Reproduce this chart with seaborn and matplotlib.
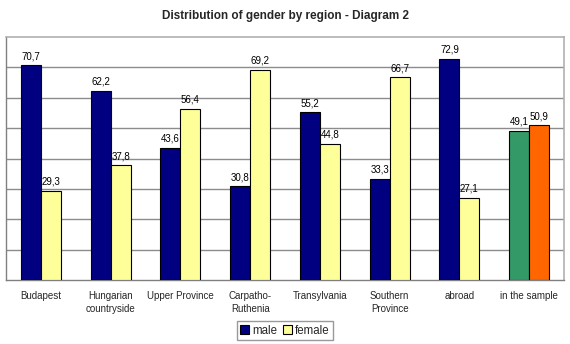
import matplotlib
matplotlib.use("Agg")
import matplotlib.pyplot as plt
import seaborn as sns
import pandas as pd
import numpy as np
from matplotlib.patches import Patch

regions = ["Budapest", "Hungarian\ncountryside", "Upper Province", "Carpatho-\nRuthenia",
           "Transylvania", "Southern\nProvince", "abroad", "in the sample"]
male = [70.7, 62.2, 43.6, 30.8, 55.2, 33.3, 72.9, 49.1]
female = [29.3, 37.8, 56.4, 69.2, 44.8, 66.7, 27.1, 50.9]
series = ["male", "female"]

df = pd.DataFrame({
    "region": regions * 2,
    "sex": ["male"] * len(regions) + ["female"] * len(regions),
    "value": male + female,
})

sns.set_theme(style="white")
plt.rcParams["font.family"] = ["Liberation Sans", "DejaVu Sans"]

fig = plt.figure(figsize=(5.70, 3.44), dpi=100)
ax = fig.add_axes([6 / 570, 64 / 344, 558 / 570, 243 / 344])

colors = {"male": "#000080", "female": "#FFFF99"}
sample_colors = {"male": "#339966", "female": "#FF6600"}
sns.barplot(data=df, x="region", y="value", hue="sex", order=regions, hue_order=series,
            palette=colors, saturation=1, width=0.57, edgecolor="black", linewidth=0.8,
            errorbar=None, ax=ax, legend=False, zorder=3)

for cont, s in zip(ax.containers, series):
    vals = male if s == "male" else female
    cont.patches[-1].set_facecolor(sample_colors[s])
    ax.bar_label(cont, labels=[f"{v:.1f}".replace(".", ",") for v in vals],
                 padding=3, fontsize=7, color="#000000")

ax.set_ylim(0, 80)
ax.set_xlim(-0.5, len(regions) - 0.5)
ax.set_yticks(np.arange(10, 80, 10))
ax.set_yticklabels([])
ax.yaxis.grid(True, color="#8c8c8c", linewidth=1)
ax.set_axisbelow(True)
ax.tick_params(axis="y", length=0)
ax.tick_params(axis="x", which="major", length=0, labelsize=7, pad=8)
for lbl in ax.get_xticklabels():
    lbl.set_linespacing(1.35)
ax.set_xticks(np.arange(-0.5, len(regions), 1), minor=True)
ax.tick_params(axis="x", which="minor", length=3, color="#808080", direction="out")
ax.set_xlabel("")
ax.set_ylabel("")
for side in ["left", "bottom"]:
    ax.spines[side].set_color("#808080")
    ax.spines[side].set_linewidth(1)
for side in ["top", "right"]:
    ax.spines[side].set_color("#b0b0b0")
    ax.spines[side].set_linewidth(1.2)

fig.suptitle("Distribution of gender by region - Diagram 2", y=0.97, fontsize=8.5,
             fontweight="bold")

handles = [Patch(facecolor=colors[s], edgecolor="black", linewidth=0.8, label=s) for s in series]
fig.legend(handles=handles, loc="center", bbox_to_anchor=(285 / 570, 1 - 330.5 / 344), ncol=2,
           fontsize=8.3, frameon=True, fancybox=False, edgecolor="#808080",
           handlelength=0.75, handleheight=0.75, handletextpad=0.3, columnspacing=0.5,
           borderpad=0.3, borderaxespad=0)

fig.savefig("out.png", dpi=100)
